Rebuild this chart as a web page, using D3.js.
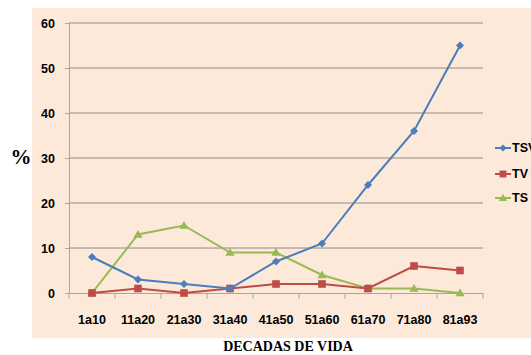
<!DOCTYPE html>
<html>
<head>
<meta charset="utf-8">
<script src="https://cdn.jsdelivr.net/npm/d3@7"></script>
<style>
  html, body { margin: 0; padding: 0; background: #ffffff; }
  svg { display: block; }
</style>
</head>
<body>
<svg id="chart" width="531" height="355"></svg>
<script>
// Age groups (decades of life)
const categories = ["1a10", "11a20", "21a30", "31a40", "41a50", "51a60", "61a70", "71a80", "81a93"];
// Percentages per series
const tsvValues = [8, 3, 2, 1, 7, 11, 24, 36, 55];
const tvValues  = [0, 1, 0, 1, 2, 2, 1, 6, 5];
const tsValues  = [0, 13, 15, 9, 9, 4, 1, 1, 0];
const seriesNames = ["TSV", "TV", "TS"];
const yTicks = [0, 10, 20, 30, 40, 50, 60];

const series = [
  { name: seriesNames[0], values: tsvValues, color: "#4a7ebb", marker: "diamond" },
  { name: seriesNames[1], values: tvValues,  color: "#be4b48", marker: "square" },
  { name: seriesNames[2], values: tsValues,  color: "#98b954", marker: "triangle" }
];

const svg = d3.select("#chart");
const labelFont = "'Liberation Sans', Arial, sans-serif";
const titleFont = "'Liberation Serif', 'Times New Roman', serif";

// Chart background panel
svg.append("rect")
  .attr("x", 32).attr("y", 8)
  .attr("width", 499).attr("height", 330)
  .attr("fill", "#fde9d9");

const plot = { left: 69, right: 483, top: 23, bottom: 293 };

const x = d3.scaleBand().domain(categories).range([plot.left, plot.right]);
const y = d3.scaleLinear().domain([0, 60]).range([plot.bottom, plot.top]);
const cx = d => x(d) + x.bandwidth() / 2;

// Horizontal gridlines
svg.append("g").selectAll("line")
  .data(yTicks.filter(t => t > 0))
  .join("line")
  .attr("x1", plot.left).attr("x2", plot.right)
  .attr("y1", d => y(d)).attr("y2", d => y(d))
  .attr("stroke", "#8c8c8c").attr("stroke-width", 1);

// Y axis
const yAxis = svg.append("g")
  .attr("transform", `translate(${plot.left},0)`)
  .call(d3.axisLeft(y).tickValues(yTicks).tickSize(4).tickPadding(10));
yAxis.select(".domain").attr("stroke", "#a6a6a6");
yAxis.selectAll(".tick line").attr("stroke", "#a6a6a6");
yAxis.selectAll(".tick text")
  .attr("font-family", labelFont).attr("font-weight", "bold")
  .attr("font-size", 12.5).attr("fill", "#000");

// X axis with ticks at category boundaries
const xAxis = svg.append("g")
  .attr("transform", `translate(0,${plot.bottom})`)
  .call(d3.axisBottom(x).tickSize(0).tickPadding(22));
xAxis.select(".domain").attr("stroke", "#a6a6a6");
xAxis.selectAll(".tick text")
  .attr("font-family", labelFont).attr("font-weight", "bold")
  .attr("font-size", 12.5).attr("fill", "#000");
xAxis.append("g").selectAll("line")
  .data(categories.concat([null]))
  .join("line")
  .attr("x1", (d, i) => plot.left + i * x.bandwidth())
  .attr("x2", (d, i) => plot.left + i * x.bandwidth())
  .attr("y1", 0).attr("y2", 6)
  .attr("stroke", "#a6a6a6");

// Marker shapes
function drawMarker(g, type, px, py, color, scale) {
  const s = scale || 1;
  if (type === "diamond") {
    const r = 4 * s;
    g.append("path")
      .attr("d", `M${px},${py - r}L${px + r},${py}L${px},${py + r}L${px - r},${py}Z`)
      .attr("fill", color);
  } else if (type === "square") {
    const r = 3.8 * s;
    g.append("rect")
      .attr("x", px - r).attr("y", py - r)
      .attr("width", 2 * r).attr("height", 2 * r)
      .attr("fill", color);
  } else {
    const r = 4.6 * s;
    g.append("path")
      .attr("d", `M${px},${py - r}L${px + r},${py + r * 0.7}L${px - r},${py + r * 0.7}Z`)
      .attr("fill", color);
  }
}

const line = d3.line().x((d, i) => cx(categories[i])).y(d => y(d));

// Series lines and markers (TS drawn first so TSV sits on top)
[series[2], series[1], series[0]].forEach(s => {
  const g = svg.append("g");
  g.append("path")
    .datum(s.values)
    .attr("d", line)
    .attr("fill", "none")
    .attr("stroke", s.color)
    .attr("stroke-width", 2);
  s.values.forEach((v, i) => drawMarker(g, s.marker, cx(categories[i]), y(v), s.color));
});

// Legend
const legendY = [148, 174, 198];
series.forEach((s, i) => {
  const g = svg.append("g");
  g.append("line")
    .attr("x1", 495).attr("x2", 511)
    .attr("y1", legendY[i]).attr("y2", legendY[i])
    .attr("stroke", s.color).attr("stroke-width", 2);
  drawMarker(g, s.marker, 503, legendY[i], s.color, 0.9);
  g.append("text")
    .attr("x", 512).attr("y", legendY[i]).attr("dy", "0.35em")
    .attr("font-family", labelFont).attr("font-weight", "bold")
    .attr("font-size", 12.5).attr("fill", "#000")
    .text(s.name);
});

// Axis titles
svg.append("text")
  .attr("x", 21).attr("y", 157).attr("dy", "0.35em")
  .attr("text-anchor", "middle")
  .attr("font-family", titleFont).attr("font-weight", "bold")
  .attr("font-size", 21).attr("fill", "#000")
  .text("%");

svg.append("text")
  .attr("x", 288).attr("y", 351)
  .attr("text-anchor", "middle")
  .attr("font-family", titleFont).attr("font-weight", "bold")
  .attr("font-size", 14).attr("fill", "#000")
  .text("DECADAS DE VIDA");
</script>
</body>
</html>
